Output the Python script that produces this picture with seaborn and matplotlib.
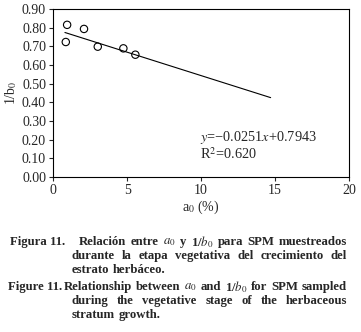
import matplotlib
matplotlib.use("Agg")
import matplotlib.pyplot as plt
import seaborn as sns
import pandas as pd

# Data
a0 = [0.86, 0.95, 2.09, 3.02, 4.75, 5.56]
inv_b0 = [0.723, 0.815, 0.793, 0.698, 0.689, 0.655]
fit_x = [0.8, 14.7]
fit_y = [0.774, 0.425]
x_ticks = [0, 5, 10, 15, 20]
y_ticks = [0.0, 0.1, 0.2, 0.3, 0.4, 0.5, 0.6, 0.7, 0.8, 0.9]

sns.set_style("ticks")
plt.rcParams["font.family"] = ["Liberation Serif", "DejaVu Serif"]
plt.rcParams["mathtext.fontset"] = "stix"

W, H = 361, 332
fig = plt.figure(figsize=(W / 100, H / 100), dpi=100)
ax = fig.add_axes([0.147, 0.467, 0.820, 0.506])

pts = pd.DataFrame({"a0": a0, "inv_b0": inv_b0})
line = pd.DataFrame({"x": fit_x, "y": fit_y})
sns.lineplot(data=line, x="x", y="y", ax=ax, color="black", linewidth=0.8)
sns.scatterplot(data=pts, x="a0", y="inv_b0", ax=ax, marker="o", s=28,
                facecolor="none", edgecolor="black", linewidth=0.8, zorder=3)

ax.set_xlim(0, 20)
ax.set_ylim(0, 0.9)
ax.set_xticks(x_ticks)
ax.set_yticks(y_ticks)
ax.set_yticklabels([f"{v:.2f}" for v in y_ticks])
ax.tick_params(axis="both", labelsize=10, length=3, width=0.8, direction="out", pad=2)
for s in ax.spines.values():
    s.set_linewidth(0.8)
    s.set_color("black")
ax.set_xlabel("a$_0$ (%)", fontsize=10, labelpad=1)
ax.set_ylabel("1/b$_0$", fontsize=10, labelpad=2)

ax.text(9.9, 0.213, "$y$=\u22120.0251$x$+0.7943", fontsize=10.3, va="center", ha="left")
ax.text(9.9, 0.12, "R$^2$=0.620", fontsize=10.3, va="center", ha="left")

cap = dict(fontsize=9.2, fontweight="bold", ha="left", va="center")
renderer = fig.canvas.get_renderer()


def place_line(words, x0, x1, y, justify=True):
    texts = [fig.text(0, 1 - y / H, w, **cap) for w in words]
    widths = [t.get_window_extent(renderer).width for t in texts]
    if justify and len(words) > 1:
        gap = (x1 - x0 - sum(widths)) / (len(words) - 1)
    else:
        sp = fig.text(0, 0, "a b", **cap)
        sp2 = fig.text(0, 0, "ab", **cap)
        gap = sp.get_window_extent(renderer).width - sp2.get_window_extent(renderer).width
        sp.remove()
        sp2.remove()
    x = x0
    for t, w in zip(texts, widths):
        t.set_x(x / W)
        x += w + gap


R = 347
IND = 72
fig.text(10 / W, 1 - 242 / H, "Figura 11.", **cap)
place_line(["Relación", "entre", "$a_0$", "y", "1/$b_0$", "para", "SPM", "muestreados"], 79, R, 242)
place_line(["durante", "la", "etapa", "vegetativa", "del", "crecimiento", "del"], IND, R, 256)
place_line(["estrato", "herbáceo."], IND, R, 270, justify=False)
fig.text(8 / W, 1 - 287 / H, "Figure 11.", **cap)
place_line(["Relationship", "between", "$a_0$", "and", "1/$b_0$", "for", "SPM", "sampled"], 64, R, 287)
place_line(["during", "the", "vegetative", "stage", "of", "the", "herbaceous"], IND, R, 301)
place_line(["stratum", "growth."], IND, R, 315, justify=False)

fig.savefig("out.png", dpi=100)
